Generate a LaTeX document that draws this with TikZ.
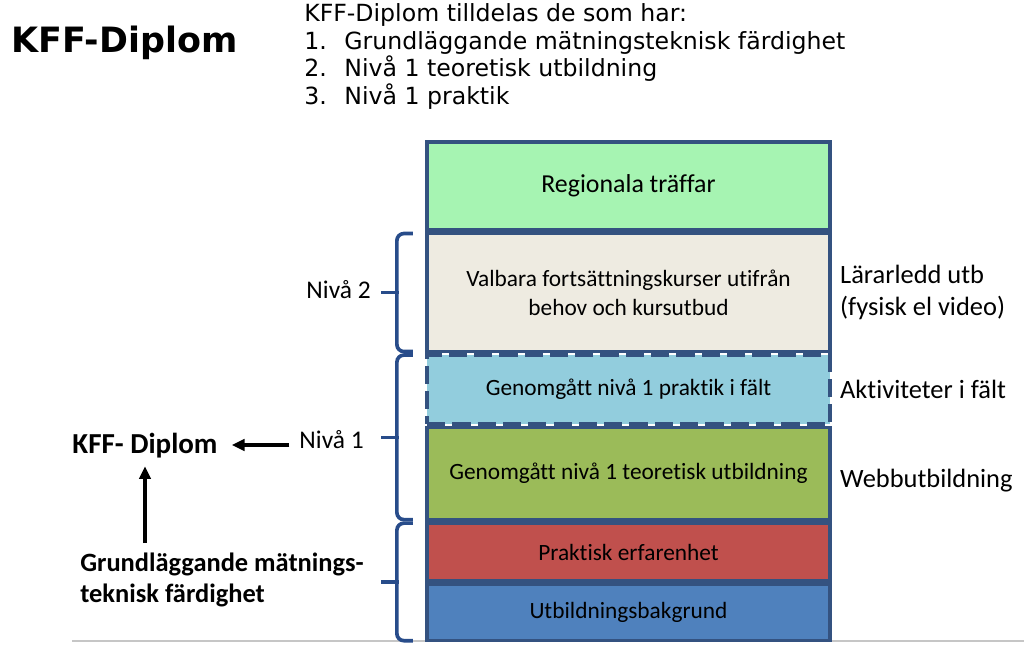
\documentclass[tikz,border=0pt]{standalone}
\usepackage{fontspec}
\setmainfont{Carlito}[Ligatures=NoCommon]
\newfontfamily\verdfont{DejaVu Sans}
\usepackage{tikz}
\usetikzlibrary{positioning,arrows.meta,calc}
\definecolor{kffline}{RGB}{52,82,128}
\definecolor{kffbrace}{RGB}{40,76,138}
\definecolor{kffgreen}{RGB}{166,244,178}
\definecolor{kffbeige}{RGB}{238,235,225}
\definecolor{kffsky}{RGB}{146,205,221}
\definecolor{kffolive}{RGB}{155,187,89}
\definecolor{kffred}{RGB}{192,80,77}
\definecolor{kffblue}{RGB}{79,129,189}
\tikzset{
  stage/.style={draw=kffline, line width=2.4pt, minimum width=10.075cm, inner sep=0pt,
                outer sep=0pt, align=center, font=\fontsize{16.6}{20.6}\selectfont},
  fieldstage/.style={stage, line width=3.2pt, dash pattern=on 13pt off 5pt},
  sidelbl/.style={inner sep=0pt, align=left, font=\fontsize{18.8}{22.7}\selectfont},
  lvl/.style={inner sep=0pt, font=\fontsize{18.1}{22}\selectfont},
  kffbold/.style={inner sep=0pt, align=left, font=\fontsize{20.6}{24}\selectfont\bfseries},
  brc/.style={draw=kffbrace, line width=2.6pt, rounded corners=5pt},
  arr/.style={-{Triangle[length=9pt,width=8pt]}, line width=2.5pt}
}

\begin{document}
\begin{tikzpicture}[x=0.025cm, y=-0.025cm, node distance=2.5pt]
  \useasboundingbox (0,0) rectangle (1024,644);
  \draw[gray!45, line width=0.8pt] (72,641) -- (1024,641);
  % heading and conditions
  \node[anchor=base west, inner sep=0pt, font=\verdfont\bfseries\fontsize{24.8}{29}\selectfont]
    (title) at (11,53) {KFF-Diplom};
  \node[anchor=north west, inner sep=0pt, align=left,
        font=\verdfont\fontsize{16.8}{19.8}\selectfont] (rules) at (304,3)
    {KFF-Diplom tilldelas de som har:\\
     \makebox[28.5pt][l]{1.}Grundläggande mätningsteknisk färdighet\\
     \makebox[28.5pt][l]{2.}Nivå 1 teoretisk utbildning\\
     \makebox[28.5pt][l]{3.}Nivå 1 praktik};
  % the stack
  \node[stage, fill=kffgreen, minimum height=2.2cm, font=\fontsize{18.4}{22}\selectfont]
    (reg) at (628.5,186) {Regionala träffar};
  \node[stage, fill=kffbeige, minimum height=2.95cm, below=of reg] (val)
    {Valbara fortsättningskurser utifrån\\behov och kursutbud};
  \node[fieldstage, fill=kffsky, minimum height=1.725cm, below=of val] (prk)
    {Genomgått nivå 1 praktik i fält};
  \node[stage, fill=kffolive, minimum height=2.3cm, below=of prk] (teo)
    {Genomgått nivå 1 teoretisk utbildning};
  \node[stage, fill=kffred, minimum height=1.45cm, below=of teo] (erf) {Praktisk erfarenhet};
  \node[stage, fill=kffblue, minimum height=1.4cm, below=of erf] (bkg) {Utbildningsbakgrund};
  % right side
  \node[sidelbl, right=7pt of val] (lead) {Lärarledd utb\\(fysisk el video)};
  \node[sidelbl, right=7pt of prk] (akt) {Aktiviteter i fält};
  \node[sidelbl, right=7pt of teo, yshift=-5pt] (web) {Webbutbildning};
  % braces
  \coordinate (b2lo) at ([xshift=-10pt]val.south west);
  \coordinate (b2hi) at ([xshift=-10pt]val.north west);
  \coordinate (b1lo) at ([xshift=-10pt]teo.south west);
  \coordinate (b1hi) at ([xshift=-10pt]prk.north west);
  \coordinate (b0lo) at ([xshift=-10pt]bkg.south west);
  \coordinate (b0hi) at ([xshift=-10pt]erf.north west);
  \foreach \lo/\hi in {b2lo/b2hi, b1lo/b1hi, b0lo/b0hi}{
    \draw[brc] (\lo) -| ($(\lo)!.5!(\hi)+(-16,0)$) |- (\hi);
    \draw[brc] ($(\lo)!.5!(\hi)+(-14,0)$) -- ++(-18,0);
  }
  \node[lvl, anchor=mid east] (niva2) at (371,295) {Nivå 2};
  \node[lvl, anchor=mid east] (niva1) at (364,445) {Nivå 1};
  % diploma
  \node[kffbold, anchor=base] (kffdip) at (145,453) {KFF- Diplom};
  \node[kffbold, anchor=north west, font=\fontsize{18.8}{22}\selectfont\bfseries]
    (grund) at (80,553) {Grundläggande mätnings-\\teknisk färdighet};
  \draw[arr, shorten <=7pt, shorten >=10pt] (niva1.mid west) -- (niva1.mid west -| kffdip.east);
  \draw[arr, shorten <=7pt, shorten >=6pt] (kffdip.south |- grund.north) -- (kffdip.south);
\end{tikzpicture}
\end{document}
